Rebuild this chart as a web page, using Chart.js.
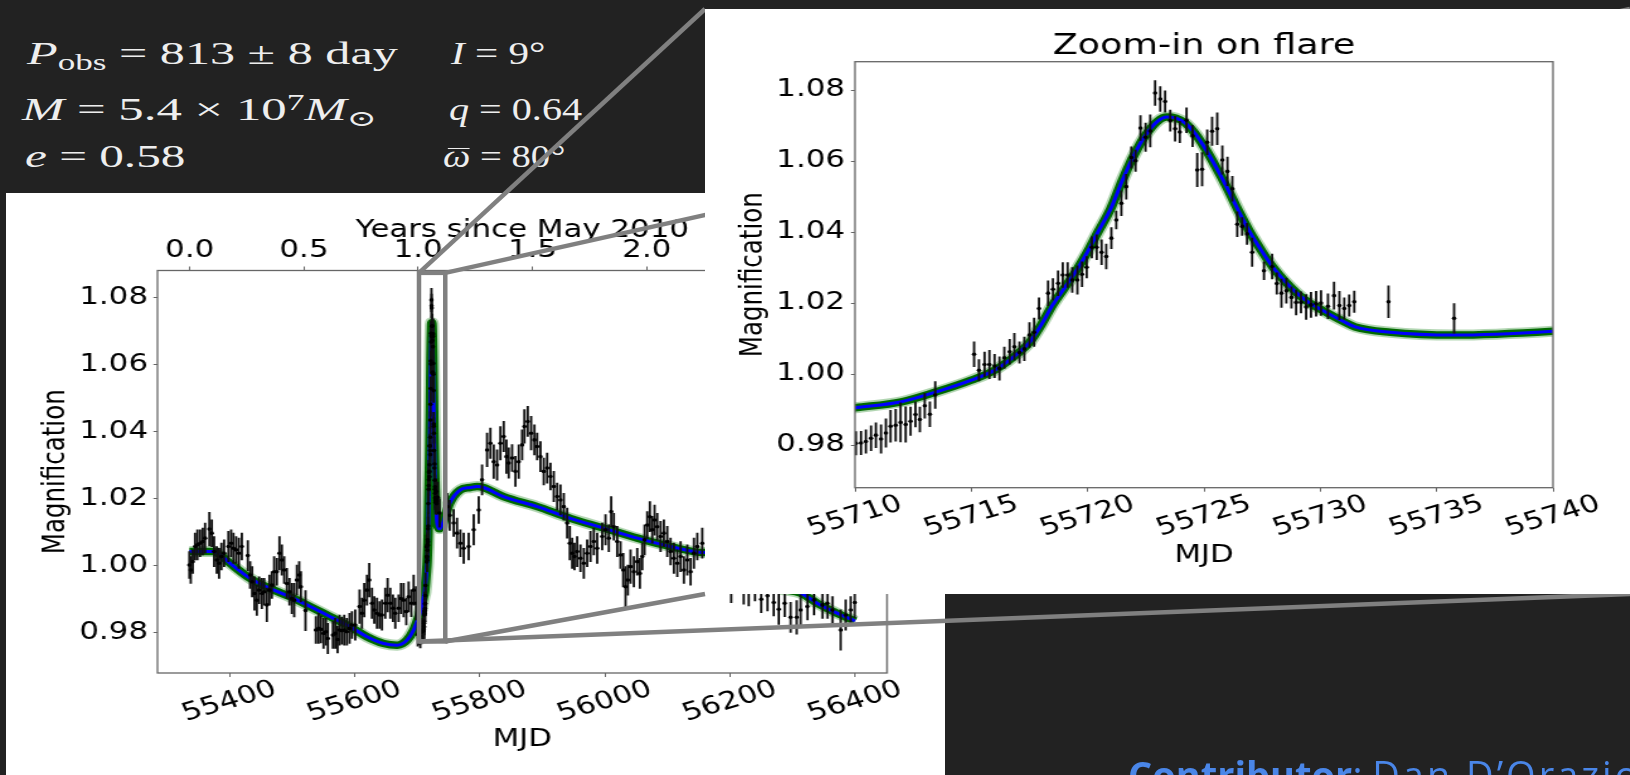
<!DOCTYPE html>
<html>
<head>
<meta charset="utf-8">
<title>Zoom-in on flare</title>
<script src="https://cdn.jsdelivr.net/npm/chart.js@4.4.1/dist/chart.umd.min.js"></script>
<style>
  html, body { margin: 0; padding: 0; }
  body { width: 1630px; height: 775px; overflow: hidden; background: #222; position: relative; }
  .panel { position: absolute; background: #fff; }
  #mainPanel { left: 6px; top: 193px; width: 939px; height: 582px; z-index: 1; }
  #mainWrap { position: absolute; left: 5px; top: 193px; width: 746px; height: 582px; transform: scaleX(1.26); transform-origin: 0 0; z-index: 2; }
  #links { position: absolute; left: 0; top: 0; z-index: 3; }
  #zoomPanel { left: 705px; top: 9px; width: 925px; height: 585px; z-index: 4; overflow: hidden; }
  #zoomWrap { position: absolute; left: 0; top: 0; width: 734px; height: 585px; transform: scaleX(1.26); transform-origin: 0 0; }
  .m { position: absolute; color: #eee; font: 32px "Liberation Serif", "DejaVu Serif", serif; line-height: 32px; white-space: nowrap; transform-origin: 0 0; z-index: 2; }
  .sub { font-size: 0.7em; position: relative; top: 0.25em; }
  .sup { font-size: 0.7em; position: relative; top: -0.45em; }
  .bar { position: relative; font-style: italic; }
  .bar::after { content: ""; position: absolute; left: 0.14em; right: 0.02em; top: 0.3em; border-top: 1.6px solid #eee; }
  #credit { position: absolute; left: 1128px; top: 755px; font: 38px "Open Sans", sans-serif; line-height: 38px; color: #4a86e8; white-space: nowrap; z-index: 5; }
  #credit span { letter-spacing: 3px; }
</style>
</head>
<body>
<div class="m" data-w="370" style="left:27px;top:37px"><i>P</i><span class="sub">obs</span> = 813 ± 8 day</div>
<div class="m" data-w="95" style="left:451px;top:37px"><i>I</i> = 9°</div>
<div class="m" data-w="354" style="left:22px;top:93px"><i>M</i> = 5.4 × 10<span class="sup">7</span><i>M</i><span class="sub">⊙</span></div>
<div class="m" data-w="133" style="left:449px;top:93px"><i>q</i> = 0.64</div>
<div class="m" data-w="160" style="left:25px;top:140px"><i>e</i> = 0.58</div>
<div class="m" data-w="122" style="left:443px;top:140px"><span class="bar">ω</span> = 80°</div>

<div class="panel" id="mainPanel"></div>
<div id="mainWrap"><canvas id="mainChart" width="746" height="582"></canvas></div>
<canvas id="links" width="1630" height="775"></canvas>
<div class="panel" id="zoomPanel">
  <div id="zoomWrap"><canvas id="zoomChart" width="734" height="585"></canvas></div>
</div>
<div id="credit"><b>Contributor</b>: <span>Dan D’Orazio</span></div>

<script>
// tick values
const mainXTicks = [55400, 55600, 55800, 56000, 56200, 56400];
const zoomXTicks = [55710, 55715, 55720, 55725, 55730, 55735, 55740];
const magTicks = [0.98, 1.00, 1.02, 1.04, 1.06, 1.08];
const yearTicks = [0.0, 0.5, 1.0, 1.5, 2.0, 2.5, 3.0];

// light curve before the flare
const preMjd = [55336.0, 55338.2, 55341.4, 55345.1, 55348.8, 55353.1, 55357.4, 55361.1, 55368.0, 55371.8,
  55375.5, 55379.8, 55383.5, 55387.2, 55391.5, 55398.4, 55402.7, 55406.4, 55410.7, 55415.0,
  55419.8, 55429.4, 55433.1, 55436.3, 55440.0, 55443.8, 55447.5, 55451.8, 55455.5, 55459.8,
  55464.0, 55467.8, 55471.5, 55475.8, 55480.0, 55483.8, 55487.5, 55491.8, 55496.0, 55499.8,
  55503.5, 55507.8, 55511.5, 55514.2, 55521.6, 55538.2, 55542.4, 55546.2, 55550.4, 55554.2,
  55557.3, 55565.4, 55569.1, 55572.8, 55576.0, 55579.7, 55583.5, 55587.7, 55592.0, 55595.8,
  55601.1, 55608.0, 55611.8, 55615.5, 55619.8, 55623.5, 55627.8, 55631.5, 55635.8, 55640.0,
  55643.8, 55649.1, 55652.8, 55657.1, 55661.4, 55665.1, 55670.4, 55674.2, 55678.4, 55682.7,
  55686.4, 55690.7, 55694.4, 55698.2, 55701.0, 55703.0, 55705.0, 55707.0, 55708.5];
const preMag = [1.0002, 0.9987, 1.0012, 1.0057, 1.0062, 1.0067, 1.0072, 1.0082, 1.0109, 1.0097,
  1.0042, 1.0017, 1.0007, 1.0027, 1.0037, 1.0057, 1.0067, 1.0052, 1.0047, 1.0037,
  1.0057, 1.0030, 0.9972, 0.9952, 0.9917, 0.9897, 0.9927, 0.9917, 0.9922, 0.9883,
  0.9927, 0.9942, 0.9982, 0.9982, 1.0037, 1.0017, 0.9987, 0.9947, 0.9922, 0.9902,
  0.9897, 0.9957, 0.9972, 0.9937, 0.9866, 0.9808, 0.9813, 0.9810, 0.9798, 0.9803,
  0.9783, 0.9793, 0.9798, 0.9780, 0.9808, 0.9806, 0.9808, 0.9803, 0.9813, 0.9823,
  0.9823, 0.9878, 0.9858, 0.9897, 0.9927, 0.9957, 0.9888, 0.9868, 0.9858, 0.9853,
  0.9853, 0.9888, 0.9912, 0.9888, 0.9873, 0.9858, 0.9873, 0.9902, 0.9897, 0.9863,
  0.9907, 0.9888, 0.9927, 0.9888, 0.9795, 0.9800, 0.9790, 0.9802, 0.9808];
const preErr = [0.004, 0.004, 0.0035, 0.004, 0.0045, 0.004, 0.004, 0.0045, 0.005, 0.004,
  0.0045, 0.004, 0.0045, 0.004, 0.004, 0.0045, 0.004, 0.0045, 0.004, 0.0045,
  0.004, 0.0045, 0.004, 0.0045, 0.005, 0.0045, 0.004, 0.0045, 0.004, 0.005,
  0.0045, 0.004, 0.0045, 0.004, 0.005, 0.0045, 0.004, 0.0045, 0.004, 0.0045,
  0.005, 0.0045, 0.004, 0.0045, 0.006, 0.004, 0.0045, 0.004, 0.0045, 0.004,
  0.0045, 0.004, 0.0045, 0.004, 0.0045, 0.004, 0.0045, 0.004, 0.0045, 0.004,
  0.0045, 0.005, 0.0045, 0.005, 0.0045, 0.005, 0.0045, 0.004, 0.0045, 0.004,
  0.0045, 0.0045, 0.005, 0.0045, 0.004, 0.0045, 0.004, 0.0045, 0.005, 0.004,
  0.0045, 0.004, 0.0045, 0.005, 0.0035, 0.0035, 0.0035, 0.0035, 0.0035];

// the flare itself (shown in both panels)
const flareMjd = [55710.04, 55710.26, 55710.47, 55710.69, 55710.90, 55711.12, 55711.33, 55711.53, 55711.75, 55711.96,
  55712.18, 55712.39, 55712.60, 55712.79, 55713.00, 55713.22, 55713.45, 55715.12, 55715.33, 55715.57,
  55715.78, 55716.00, 55716.21, 55716.42, 55716.65, 55716.85, 55717.07, 55717.28, 55717.50, 55717.70,
  55717.91, 55718.30, 55718.51, 55718.73, 55718.93, 55719.14, 55719.34, 55719.56, 55719.76, 55719.96,
  55720.18, 55720.39, 55720.60, 55720.80, 55721.02, 55721.23, 55721.45, 55721.66, 55721.88, 55722.06,
  55722.27, 55722.49, 55722.69, 55722.90, 55723.12, 55723.33, 55723.55, 55723.76, 55723.96, 55724.25,
  55724.51, 55724.71, 55724.92, 55725.14, 55725.35, 55725.57, 55725.79, 55726.01, 55726.22, 55726.43,
  55726.64, 55726.85, 55727.07, 55727.58, 55727.93, 55728.13, 55728.33, 55728.54, 55728.76, 55728.96,
  55729.17, 55729.39, 55729.60, 55729.82, 55730.03, 55730.33, 55730.59, 55730.82, 55731.03, 55731.24,
  55731.46, 55732.93, 55735.75];
const flareMag = [0.9805, 0.9806, 0.9810, 0.9819, 0.9828, 0.9817, 0.9834, 0.9853, 0.9856, 0.9864,
  0.9858, 0.9867, 0.9886, 0.9872, 0.9911, 0.9887, 0.9941, 1.0056, 1.0011, 1.0027,
  1.0027, 1.0023, 1.0016, 1.0046, 1.0063, 1.0077, 1.0061, 1.0071, 1.0110, 1.0118,
  1.0185, 1.0228, 1.0239, 1.0256, 1.0279, 1.0279, 1.0265, 1.0265, 1.0281, 1.0301,
  1.0357, 1.0357, 1.0343, 1.0331, 1.0383, 1.0434, 1.0481, 1.0528, 1.0610, 1.0601,
  1.0693, 1.0667, 1.0685, 1.0792, 1.0775, 1.0768, 1.0714, 1.0691, 1.0682, 1.0715,
  1.0671, 1.0575, 1.0577, 1.0653, 1.0684, 1.0691, 1.0603, 1.0571, 1.0522, 1.0422,
  1.0416, 1.0395, 1.0343, 1.0291, 1.0303, 1.0255, 1.0228, 1.0235, 1.0216, 1.0202,
  1.0202, 1.0189, 1.0195, 1.0198, 1.0200, 1.0191, 1.0221, 1.0193, 1.0185, 1.0193,
  1.0204, 1.0204, 1.0157];
const flareErr = [0.0033, 0.0033, 0.0033, 0.0035, 0.0035, 0.004, 0.004, 0.0045, 0.0045, 0.0055,
  0.005, 0.004, 0.0035, 0.0035, 0.0035, 0.0035, 0.0038, 0.0035, 0.003, 0.0035,
  0.004, 0.0033, 0.0033, 0.003, 0.0035, 0.0038, 0.003, 0.0033, 0.0035, 0.004,
  0.003, 0.0035, 0.003, 0.0035, 0.0035, 0.0035, 0.0035, 0.004, 0.0035, 0.003,
  0.003, 0.0035, 0.0035, 0.0035, 0.003, 0.0025, 0.0035, 0.0035, 0.003, 0.003,
  0.0035, 0.004, 0.0045, 0.0035, 0.0035, 0.003, 0.003, 0.0035, 0.003, 0.0035,
  0.003, 0.0047, 0.0047, 0.0035, 0.004, 0.0045, 0.004, 0.004, 0.0035, 0.0035,
  0.0025, 0.003, 0.004, 0.0025, 0.0035, 0.003, 0.004, 0.0035, 0.003, 0.0035,
  0.003, 0.0035, 0.0035, 0.0035, 0.0035, 0.0035, 0.0038, 0.004, 0.003, 0.003,
  0.003, 0.0045, 0.0042];

// after the flare
const postMjd = [55748.0, 55752.0, 55758.4, 55763.8, 55769.1, 55774.4, 55782.4, 55790.4, 55798.4, 55803.8,
  55811.8, 55817.1, 55822.4, 55827.8, 55833.1, 55838.4, 55842.7, 55846.4, 55851.8, 55857.1,
  55862.4, 55867.8, 55871.5, 55876.8, 55882.2, 55887.5, 55891.8, 55897.1, 55902.4, 55907.8,
  55913.1, 55918.4, 55923.8, 55929.1, 55934.4, 55939.8, 55944.0, 55947.8, 55951.5, 55955.8,
  55961.1, 55966.4, 55971.8, 55977.1, 55982.4, 55987.8, 55995.8, 56001.1, 56006.4, 56010.2,
  56014.4, 56019.8, 56025.1, 56029.4, 56033.1, 56036.8, 56041.1, 56046.4, 56051.8, 56056.0,
  56059.8, 56063.5, 56067.8, 56072.0, 56075.8, 56079.5, 56083.8, 56089.1, 56094.4, 56099.8,
  56105.1, 56110.4, 56115.8, 56121.1, 56126.4, 56131.8, 56137.1, 56142.4, 56147.8, 56155.7,
  56165.0, 56172.0, 56180.0, 56188.0, 56195.0, 56202.0, 56210.0, 56222.0, 56230.0, 56240.0,
  56250.0, 56260.0, 56270.0, 56278.0, 56287.5, 56297.0, 56306.7, 56313.0, 56323.8, 56334.4,
  56347.8, 56355.8, 56363.8, 56377.0, 56385.0, 56393.0, 56399.5];
const postMag = [1.0176, 1.0150, 1.0127, 1.0097, 1.0067, 1.0052, 1.0057, 1.0107, 1.0166, 1.0256,
  1.0345, 1.0365, 1.0310, 1.0300, 1.0365, 1.0385, 1.0325, 1.0306, 1.0321, 1.0281,
  1.0310, 1.0360, 1.0415, 1.0430, 1.0395, 1.0375, 1.0355, 1.0325, 1.0281, 1.0291,
  1.0266, 1.0236, 1.0206, 1.0196, 1.0176, 1.0127, 1.0067, 1.0037, 1.0027, 1.0042,
  1.0022, 1.0007, 1.0037, 1.0057, 1.0072, 1.0052, 1.0087, 1.0107, 1.0082, 1.0161,
  1.0116, 1.0072, 1.0032, 0.9987, 0.9937, 0.9957, 0.9997, 0.9982, 1.0012, 0.9977,
  1.0027, 1.0077, 1.0121, 1.0146, 1.0107, 1.0136, 1.0116, 1.0087, 1.0097, 1.0072,
  1.0042, 1.0022, 1.0007, 1.0027, 0.9987, 1.0017, 0.9982, 1.0037, 1.0057, 1.0067,
  1.0040, 1.0060, 1.0030, 1.0010, 0.9970, 0.9935, 0.9960, 0.9930, 0.9920, 0.9940,
  0.9900, 0.9910, 0.9890, 0.9870, 0.9888, 0.9846, 0.9846, 0.9868, 0.9878, 0.9898,
  0.9883, 0.9888, 0.9868, 0.9808, 0.9853, 0.9868, 0.9890];
const postErr = [0.004, 0.0045, 0.004, 0.0045, 0.004, 0.0045, 0.004, 0.0045, 0.004, 0.0045,
  0.005, 0.0045, 0.005, 0.0045, 0.005, 0.0045, 0.005, 0.0045, 0.004, 0.0045,
  0.005, 0.0045, 0.005, 0.0045, 0.005, 0.0045, 0.004, 0.0045, 0.004, 0.0045,
  0.004, 0.0045, 0.004, 0.0045, 0.004, 0.0045, 0.005, 0.0045, 0.004, 0.0045,
  0.004, 0.0045, 0.004, 0.0045, 0.004, 0.0045, 0.004, 0.0045, 0.004, 0.0045,
  0.004, 0.0045, 0.004, 0.005, 0.006, 0.0045, 0.005, 0.0045, 0.004, 0.0045,
  0.004, 0.0045, 0.004, 0.0045, 0.004, 0.0045, 0.004, 0.0045, 0.004, 0.0045,
  0.004, 0.0045, 0.004, 0.0045, 0.004, 0.0045, 0.004, 0.0045, 0.004, 0.0045,
  0.004, 0.0045, 0.004, 0.0045, 0.004, 0.0045, 0.004, 0.0045, 0.004, 0.0045,
  0.004, 0.0045, 0.004, 0.0045, 0.004, 0.0045, 0.005, 0.0045, 0.004, 0.0045,
  0.004, 0.0045, 0.004, 0.006, 0.0045, 0.004, 0.0045];

// best-fit binary model
const modelMjd = [55336, 55374.4, 55385.1, 55401.1, 55433.1, 55465.1, 55497.1, 55529.1, 55561.1, 55593.1,
  55619.8, 55646.4, 55667.8, 55683.8, 55694.4, 55699.7, 55705,
  55710, 55712, 55713.5, 55715, 55716, 55717, 55717.5, 55718, 55718.5, 55719,
  55719.5, 55720, 55720.4, 55721, 55721.5, 55722, 55722.5, 55723, 55723.4, 55723.8,
  55724.2, 55724.6, 55725, 55725.5, 55726, 55726.5, 55727, 55727.5, 55728, 55728.5,
  55729, 55729.5, 55730, 55731, 55731.5, 55733, 55735.75, 55740,
  55752, 55769, 55785, 55796, 55806, 55838, 55892, 55945, 55998, 56052,
  56105, 56158, 56165, 56190, 56214, 56246, 56278, 56313, 56342, 56374, 56400];
const modelMag = [1.0042, 1.0042, 1.0032, 1.0007, 0.9962, 0.9932, 0.9907, 0.9878, 0.9848, 0.9818,
  0.9788, 0.9768, 0.9763, 0.9778, 0.9808, 0.9833, 0.9862,
  0.9905, 0.9922, 0.9950, 0.9983, 1.0011, 1.0058, 1.0089, 1.0138, 1.0195, 1.0242,
  1.0290, 1.0345, 1.0395, 1.0467, 1.0547, 1.0618, 1.0674, 1.0712, 1.0724, 1.0721,
  1.0707, 1.0679, 1.0641, 1.0585, 1.0524, 1.0458, 1.0397, 1.0345, 1.0298, 1.0260,
  1.0228, 1.0202, 1.0183, 1.0148, 1.0133, 1.0118, 1.0110, 1.0121,
  1.0186, 1.0226, 1.0233, 1.0236, 1.0233, 1.0206, 1.0176, 1.0141, 1.0112, 1.0082,
  1.0057, 1.0039, 1.0040, 1.0036, 1.0007, 0.9962, 0.9932, 0.9918, 0.9885, 0.9856, 0.9835];

// inset box drawn on the main panel (data units)
const boxMjd = [55703, 55745];
const boxMag = [0.9774, 1.0873];
const yearZeroMjd = 55336.5;

(() => {
  const FONT = "'DejaVu Sans', sans-serif";
  const tickFont = { family: FONT, size: 24.5 };
  const spine = "#666";

  // fit the maths lines to their widths
  document.querySelectorAll(".m").forEach((el) => {
    const k = Number(el.dataset.w) / el.offsetWidth;
    el.style.transform = `scaleX(${k})`;
  });

  const toPoints = (xs, ys) => xs.map((x, i) => ({ x, y: ys[i] }));
  const toBars = (xs, ys, es) => xs.map((x, i) => ({ x, y: [ys[i] - es[i], ys[i] + es[i]] }));

  const allMjd = preMjd.concat(flareMjd, postMjd);
  const allMag = preMag.concat(flareMag, postMag);
  const allErr = preErr.concat(flareErr, postErr);

  const frame = {
    id: "frame",
    afterDraw(chart) {
      const { ctx, chartArea: a } = chart;
      ctx.save();
      ctx.strokeStyle = spine;
      ctx.lineWidth = 1.3;
      ctx.strokeRect(a.left, a.top, a.right - a.left, a.bottom - a.top);
      ctx.restore();
    },
  };

  // x tick labels tilted 20 degrees, centred on the tick
  const tiltedTicks = {
    id: "tiltedTicks",
    afterDraw(chart) {
      const s = chart.scales.x;
      const ctx = chart.ctx;
      ctx.save();
      ctx.font = `24.5px ${FONT}`;
      ctx.fillStyle = "#000";
      ctx.textAlign = "center";
      ctx.textBaseline = "middle";
      s.ticks.forEach((t) => {
        ctx.save();
        ctx.translate(s.getPixelForValue(t.value), chart.chartArea.bottom + 28.8);
        ctx.rotate((-20 * Math.PI) / 180);
        ctx.fillText(String(t.value), 0, 0);
        ctx.restore();
      });
      ctx.restore();
    },
  };

  const datasets = (xs, ys, es) => [
    { type: "scatter", data: toPoints(xs, ys), pointRadius: 1.8, pointBorderWidth: 0,
      backgroundColor: "#000", order: 0, clip: 0 },
    { type: "bar", data: toBars(xs, ys, es), backgroundColor: "#111", borderWidth: 0,
      barThickness: 1.2, order: 1, clip: 0 },
    { type: "line", data: toPoints(modelMjd, modelMag), borderColor: "#0000ff", borderWidth: 3,
      pointRadius: 0, cubicInterpolationMode: "monotone", order: 2, clip: 0 },
    { type: "line", data: toPoints(modelMjd, modelMag), borderColor: "rgb(0,105,0)", borderWidth: 7.5,
      pointRadius: 0, cubicInterpolationMode: "monotone", order: 3, clip: 0 },
    { type: "line", data: toPoints(modelMjd, modelMag), borderColor: "rgba(0,120,0,0.3)", borderWidth: 11,
      pointRadius: 0, cubicInterpolationMode: "monotone", order: 4, clip: 0 },
  ];

  const magAxis = (width, labelPad, titlePad) => ({
    type: "linear",
    position: "left",
    min: 0.968,
    max: 1.088,
    grid: { drawOnChartArea: false, tickLength: 3.2, color: spine },
    border: { display: false },
    ticks: { font: tickFont, color: "#000", padding: labelPad, callback: (v) => v.toFixed(2) },
    title: { display: true, text: "Magnification", font: tickFont, color: "#000", padding: { top: titlePad, bottom: 0 } },
    afterBuildTicks: (s) => { s.ticks = magTicks.map((v) => ({ value: v })); },
    afterFit: (s) => { s.width = width; },
  });

  const mjdAxis = (min, max, ticks, height, titlePad) => ({
    type: "linear",
    position: "bottom",
    min,
    max,
    offset: false,
    grid: { drawOnChartArea: false, tickLength: 4, color: spine, offset: false },
    border: { display: false },
    ticks: { display: false },
    title: { display: true, text: "MJD", font: tickFont, color: "#000", padding: { top: 0, bottom: titlePad } },
    afterBuildTicks: (s) => { s.ticks = ticks.map((v) => ({ value: v })); },
    afterFit: (s) => { s.height = height; },
  });

  const mainMin = 55285;
  const mainMax = 56451;

  const mainChart = new Chart(document.getElementById("mainChart"), {
    type: "scatter",
    data: { datasets: datasets(allMjd, allMag, allErr) },
    options: {
      responsive: false,
      animation: false,
      events: [],
      layout: { padding: { left: 0, right: 46, top: 0, bottom: 0 } },
      plugins: { legend: { display: false }, tooltip: { enabled: false } },
      scales: {
        x: mjdAxis(mainMin, mainMax, mainXTicks, 102, 20.8),
        xTop: {
          type: "linear",
          position: "top",
          min: (mainMin - yearZeroMjd) / 365.25,
          max: (mainMax - yearZeroMjd) / 365.25,
          grid: { drawOnChartArea: false, tickLength: 4, color: spine },
          border: { display: false },
          ticks: { font: tickFont, color: "#000", padding: 1.4, maxRotation: 0, autoSkip: false,
            callback: (v) => v.toFixed(1) },
          title: { display: true, text: "Years since May 2010", font: tickFont, color: "#000",
            padding: { top: 22.5, bottom: 0 } },
          afterBuildTicks: (s) => { s.ticks = yearTicks.map((v) => ({ value: v })); },
          afterFit: (s) => { s.height = 77.5; },
        },
        y: magAxis(121, 4.3, 25.5),
      },
    },
    plugins: [frame, tiltedTicks],
  });

  new Chart(document.getElementById("zoomChart"), {
    type: "scatter",
    data: { datasets: datasets(flareMjd, flareMag, flareErr) },
    options: {
      responsive: false,
      animation: false,
      events: [],
      layout: { padding: { left: 0, right: 61, top: 0, bottom: 0 } },
      plugins: {
        legend: { display: false },
        tooltip: { enabled: false },
        title: {
          display: true,
          text: "Zoom-in on flare",
          fullSize: false,
          color: "#000",
          font: { family: FONT, size: 29, weight: "normal", lineHeight: 1 },
          padding: { top: 22.8, bottom: 0.9 },
        },
      },
      scales: {
        x: mjdAxis(55710, 55740, zoomXTicks, 106.3, 23.8),
        y: magAxis(119, 4.7, 23.9),
      },
    },
    plugins: [frame, tiltedTicks],
  });

  // inset box and connector lines, from the main chart scales to the zoom panel corners
  const links = document.getElementById("links").getContext("2d");
  const r = mainChart.canvas.getBoundingClientRect();
  const sx = r.width / mainChart.width;
  const sy = r.height / mainChart.height;
  const px = (v) => r.left + mainChart.scales.x.getPixelForValue(v) * sx;
  const py = (v) => r.top + mainChart.scales.y.getPixelForValue(v) * sy;
  const x0 = px(boxMjd[0]);
  const x1 = px(boxMjd[1]);
  const y0 = py(boxMag[1]);
  const y1 = py(boxMag[0]);
  const z = document.getElementById("zoomPanel").getBoundingClientRect();

  links.strokeStyle = "#808080";
  links.lineWidth = 4.5;
  links.strokeRect(x0, y0, x1 - x0, y1 - y0);
  [
    [x0, y0, z.left, z.top],
    [x1, y0, z.right, z.top],
    [x0, y1, z.right, z.bottom],
    [x1, y1, z.left, z.bottom],
  ].forEach(([ax, ay, bx, by]) => {
    links.beginPath();
    links.moveTo(ax, ay);
    links.lineTo(bx, by);
    links.stroke();
  });
})();
</script>
</body>
</html>
